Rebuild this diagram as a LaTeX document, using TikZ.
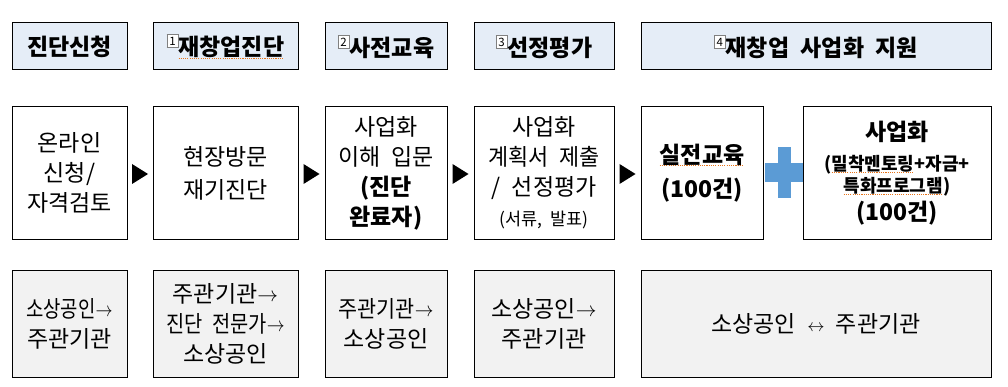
\documentclass[tikz,border=0pt]{standalone}
\usepackage{fontspec}
\usepackage{graphicx}
\usetikzlibrary{calc}
\setmainfont{Noto Sans CJK KR}[WordSpace=2.2]
\definecolor{hdrfill}{HTML}{E5EDF7}
\definecolor{rolefill}{HTML}{F2F2F2}
\definecolor{plusblue}{HTML}{5B9BD5}
\definecolor{sqc}{HTML}{E8741A}
\newsavebox\sqbox
\newcommand\squig[1]{\sbox\sqbox{#1}\rlap{\textcolor{sqc}{\lower2.8pt\hbox to\wd\sqbox{\xleaders\hbox{\rule{1.1pt}{1pt}\kern1.1pt}\hfill}}}\usebox\sqbox}
\newcommand\bnum[1]{\raisebox{10pt}{\setlength\fboxsep{0.7pt}\setlength\fboxrule{0.7pt}\fcolorbox{gray}{white}{\makebox[9pt]{\rule[-1pt]{0pt}{11pt}\fontsize{11.5}{11.5}\selectfont\mdseries #1}}}}
\newcommand\ra{\raisebox{1pt}{\fontsize{20.74}{20.74}\selectfont$\rightarrow$}}
\newcommand\lra{\raisebox{1pt}{\fontsize{17.28}{17.28}\selectfont$\leftrightarrow$}}
\newcommand\bx[7]{\node[#2, minimum width={(#5)-(#3)}, minimum height={(#6)-(#4)}] (#1) at ({((#3)+(#5))/2},{((#4)+(#6))/2}) {#7};}
\begin{document}
\begin{tikzpicture}[x=1pt,y=-1pt,
  base/.style={draw=black, line width=1pt, inner sep=0pt, align=center, font=\fontsize{23}{30}\selectfont},
  hdr/.style={base, fill=hdrfill, font=\bfseries\fontsize{23}{30}\selectfont},
  mid/.style={base, fill=white},
  role/.style={base, fill=rolefill},
  tri/.style={fill=black},
  plus/.style={fill=plusblue}]
\useasboundingbox (0,0) rectangle (1008,387);
\fill[white] (0,0) rectangle (1008,387);
% header row
\bx{h1}{hdr}{12}{23}{127}{70}{진단신청}
\bx{h2}{hdr}{153}{23}{298}{70}{\bnum{1}\squig{재창업진단}}
\bx{h3}{hdr}{325}{23}{447}{70}{\bnum{2}사전교육}
\bx{h4}{hdr}{474}{23}{614}{70}{\bnum{3}선정평가}
\bx{h5}{hdr}{641}{23}{991}{70}{\bnum{4}재창업 사업화 지원}
% process row
\bx{a1}{mid}{12}{107}{127}{239}{온라인\\신청/\\자격검토}
\bx{a2}{mid}{153}{107}{298}{239}{현장방문\\[3pt]재기진단}
\bx{a3}{mid}{325}{107}{447}{239}{사업화\\이해 입문\\\textbf{(진단}\\\textbf{완료자)}}
\bx{a4}{mid}{474}{107}{614}{239}{사업화\\\scalebox{0.95}[1]{계획서 제출}\\/ 선정평가\\{\fontsize{17.5}{20}\selectfont(서류, 발표)}}
\bx{a5}{mid}{641}{107}{763}{239}{\textbf{\squig{실전교육}}\\[4pt]\textbf{(100건)}}
\bx{a6}{mid}{803}{107}{991}{239}{\textbf{사업화}\\{\bfseries\fontsize{18}{22}\selectfont(\squig{밀착멘토링}+자금+}\\[-8pt]{\bfseries\fontsize{18}{22}\selectfont\squig{특화프로그램})}\\[-2pt]\textbf{(100건)}}
% role row
\bx{b1}{role}{12}{270}{127}{377}{\scalebox{0.82}[1]{소상공인\ra}\\주관기관}
\bx{b2}{role}{153}{270}{298}{377}{주관기관\ra\\\scalebox{0.86}[1]{진단 전문가\ra}\\소상공인}
\bx{b3}{role}{325}{270}{447}{377}{\scalebox{0.9}[1]{주관기관\ra}\\소상공인}
\bx{b4}{role}{474}{270}{614}{377}{소상공인\ra\\주관기관}
\bx{b5}{role}{641}{270}{991}{377}{소상공인 \lra{} 주관기관}
% flow triangles
\foreach \p/\q in {a1/a2,a2/a3,a3/a4,a4/a5}
  \fill[tri] ($(\p.east)!0.5!(\q.west)+(-8,-9)$) -- ++(16,10) -- ++(-16,10) -- cycle;
% plus sign
\coordinate (pc) at ($(a5.east)!0.5!(a6.west)+(1,0)$);
\fill[plus] ($(pc)+(-19,-9.5)$) rectangle ($(pc)+(19,9.5)$);
\fill[plus] ($(pc)+(-6.5,-26)$) rectangle ($(pc)+(6.5,25)$);
\end{tikzpicture}
\end{document}
